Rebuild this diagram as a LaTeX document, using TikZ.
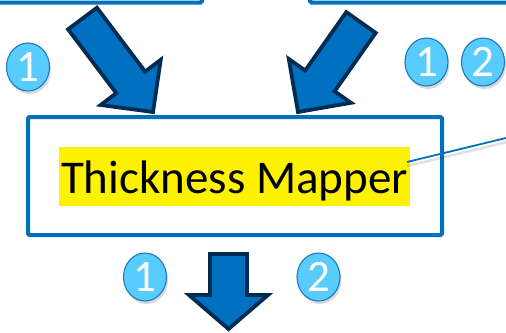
\documentclass[tikz,border=0pt]{standalone}
\usepackage{fontspec}
\setmainfont{Carlito}
\usetikzlibrary{shapes.geometric,shadows}
\definecolor{boxblue}{RGB}{0,112,192}
\definecolor{navy}{RGB}{0,44,82}
\definecolor{badgefill}{RGB}{88,204,255}
\definecolor{badgeedge}{RGB}{30,120,190}
\tikzset{
  frame/.style={draw=boxblue, line width=4pt, rounded corners=1.5pt},
  fatarrow/.style={fill=boxblue, draw=navy, line width=3.8pt, line join=miter},
  badge/.style={ellipse, minimum width=43pt, minimum height=48pt, inner sep=0pt,
    fill=badgefill, draw=badgeedge, line width=1.1pt, text=white,
    font=\fontsize{45}{45}\selectfont,
    drop shadow={shadow xshift=1.5pt, shadow yshift=-3pt, opacity=0.25, fill=black!60}},
  label/.style={fill=yellow, inner xsep=2pt, inner ysep=0pt, text height=46pt, text depth=13pt,
    font=\fontsize{47}{47}\selectfont, anchor=base},
  leader/.style={draw=boxblue, line width=1.8pt}
}
\begin{document}
\begin{tikzpicture}[x=1pt,y=-1pt]
\useasboundingbox (0,0) rectangle (506,332);
\begin{scope}
\clip (0,0) rectangle (506,332);
% partial boxes at top
\draw[frame] (-20,-60) rectangle (202,2.5);
\draw[frame] (310,-60) rectangle (526,2.5);
% main box
\draw[frame] (28,117) rectangle (442,235);
\node[label] (hl) at (234.5,193) {Thickness Mapper};
\coordinate (ls) at (407,162);
\coordinate (le) at (520,134.6);
\draw[black, opacity=0.12, line width=2.5pt] (407,166) -- (520,139);
\draw[leader] (ls) -- (le);
% arrows
\draw[fatarrow] (68.1,29.3) -- (96.9,7.7) -- (145.1,71.6) -- (160.7,59.8) -- (153,112) -- (100.7,105.0) -- (116.3,93.2) -- cycle;
\draw[fatarrow] (346.3,12.1) -- (375.7,32.9) -- (334.6,91.3) -- (351.0,102.8) -- (298,112) -- (288.8,59.0) -- (305.2,70.5) -- cycle;
\draw[fatarrow] (210,254) -- (247,254) -- (247,295) -- (268,295) -- (228.5,329) -- (189,295) -- (210,295) -- cycle;
% badges
\node[badge] (b1) at (28,67) {1};
\node[badge] (b2) at (426.5,62) {1};
\node[badge] (b3) at (483,62) {2};
\node[badge] (b4) at (145,277) {1};
\node[badge] (b5) at (318.5,277) {2};
\end{scope}
\end{tikzpicture}
\end{document}
